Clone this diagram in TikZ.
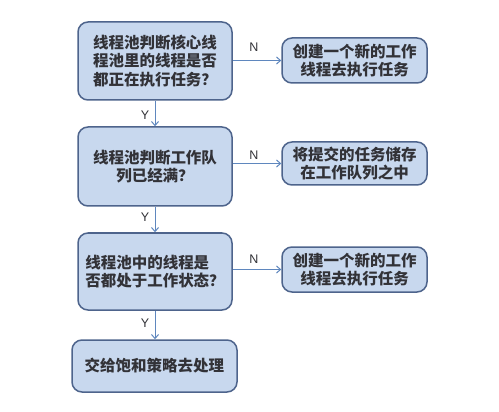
\documentclass[tikz,border=0pt]{standalone}
\usepackage{fontspec}
\setsansfont{Liberation Sans}
\newfontfamily\cjk{Noto Sans CJK SC}
\usetikzlibrary{arrows.meta}
\definecolor{boxfill}{RGB}{200,216,238}
\definecolor{boxdraw}{RGB}{78,100,140}
\definecolor{arrcol}{RGB}{95,135,190}
\definecolor{txtcol}{RGB}{50,50,55}
\tikzset{
  box/.style={draw=boxdraw, line width=1.5pt, fill=boxfill, rounded corners=10pt,
    font=\cjk\bfseries\fontsize{15.5}{18.5}\selectfont, text=txtcol, inner sep=0pt},
  rbox/.style={box, font=\cjk\bfseries\fontsize{15.5}{17.5}\selectfont},
  arr/.style={draw=arrcol, line width=1pt, -{Straight Barb[length=4pt,width=7pt]}},
  lab/.style={font=\sffamily\fontsize{12.5}{13}\selectfont, text=txtcol}
}
\begin{document}
\begin{tikzpicture}[x=1pt,y=-1pt]
\useasboundingbox (0,0) rectangle (499,412);
\fill[white] (0,0) rectangle (499,412);
\node[box, minimum width=154pt, minimum height=78pt, align=center] (b1) at (155,61)
  {线程池判断核心线\\程池里的线程是否\\都正在执行任务？};
\node[box, minimum width=154pt, minimum height=79pt, align=center] (b2) at (155,166.5)
  {线程池判断工作队\\列已经满？};
\node[box, minimum width=154pt, minimum height=77pt, align=left] (b3) at (155,271.5)
  {线程池中的线程是\\否都处于工作状态？};
\node[box, minimum width=165pt, minimum height=52pt, align=center] (b4) at (154.5,366)
  {交给饱和策略去处理};
\node[rbox, minimum width=145pt, minimum height=45pt, align=center] (r1) at (354.5,60.5)
  {创建一个新的工作\\线程去执行任务};
\node[rbox, minimum width=145pt, minimum height=43pt, align=center] (r2) at (354.5,163.5)
  {将提交的任务储存\\在工作队列之中};
\node[rbox, minimum width=145pt, minimum height=45pt, align=center] (r3) at (354.5,269.5)
  {创建一个新的工作\\线程去执行任务};
\draw[arr] (b1.south) -- (b2.north);
\draw[arr] (b2.south) -- (b3.north);
\draw[arr] (b3.south) -- (b4.north -| b3.south);
\draw[arr] (r1.west -| b1.east) -- (r1.west);
\draw[arr] (r2.west -| b2.east) -- (r2.west);
\draw[arr] (r3.west -| b3.east) -- (r3.west);
\node[lab] (y1) at (145,115) {Y};
\node[lab] (y2) at (145,217) {Y};
\node[lab] (y3) at (145,323) {Y};
\node[lab] (n1) at (254,47) {N};
\node[lab] (n2) at (254,155) {N};
\node[lab] (n3) at (254,259) {N};
\end{tikzpicture}
\end{document}
